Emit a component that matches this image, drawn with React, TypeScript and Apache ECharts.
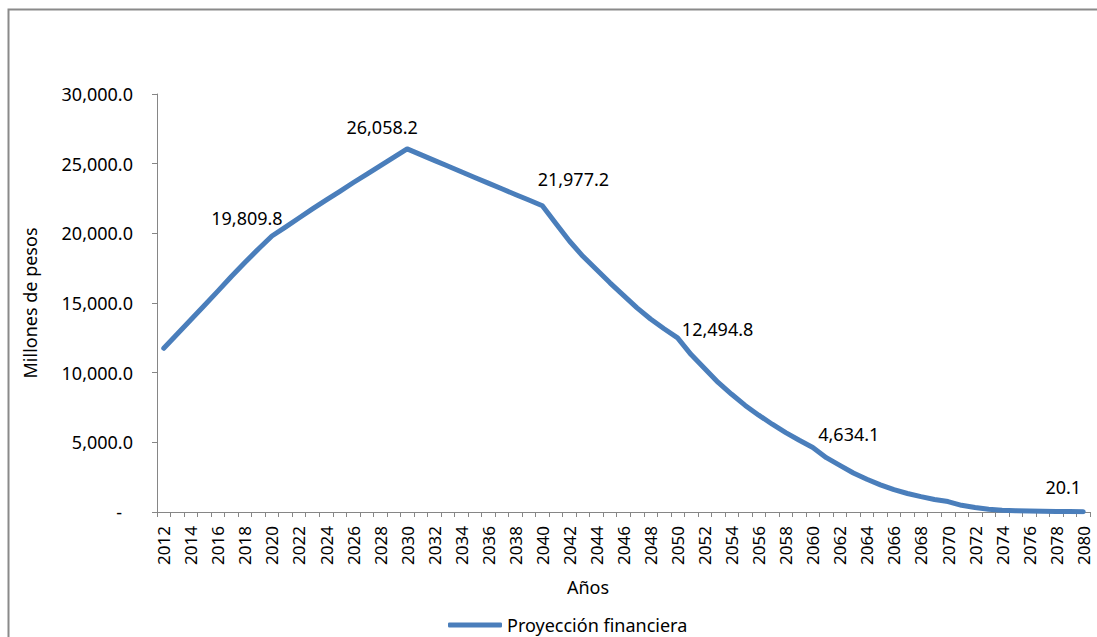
import React, { useEffect, useRef } from "react";
import * as echarts from "echarts";

const firstYear = 2012;
const lastYear = 2080;
const years: string[] = Array.from({ length: lastYear - firstYear + 1 }, (_, i) => String(firstYear + i));

const projection: number[] = [
  11750, 12780, 13800, 14820, 15850, 16900, 17900, 18880, 19809.8,
  20450, 21100, 21750, 22380, 23000, 23630, 24230, 24840, 25450, 26058.2,
  25650, 25240, 24830, 24420, 24010, 23600, 23200, 22790, 22390, 21977.2,
  20700, 19450, 18350, 17400, 16450, 15550, 14650, 13850, 13150, 12494.8,
  11300, 10300, 9300, 8450, 7650, 6950, 6300, 5700, 5150, 4634.1,
  3900, 3350, 2800, 2350, 1950, 1600, 1330, 1100, 900, 750,
  480, 320, 200, 130, 90, 65, 50, 38, 28, 20.1,
];

const labeledYears: string[] = ["2020", "2030", "2040", "2050", "2060", "2080"];

const seriesName = "Proyección financiera";
const yTitle = "Millones de pesos";
const xTitle = "Años";

const labelOffsets: Record<string, [number, number]> = {
  "2020": [-25, -18],
  "2030": [-25, -22],
  "2040": [31, -27],
  "2050": [40, -9],
  "2060": [36, -13],
  "2080": [-20, -25],
};

const FONT = "Noto Sans";
const FS = 18;
const LINE_COLOR = "#4a7ebb";
const AXIS_COLOR = "#868686";

const fmt = (v: number) =>
  v.toLocaleString("en-US", { minimumFractionDigits: 1, maximumFractionDigits: 1 });

export default function App() {
  const ref = useRef<HTMLDivElement>(null);
  useEffect(() => {
    if (!ref.current) return;
    const chart = echarts.init(ref.current, undefined, { renderer: "svg" });
    const data = projection.map((v, i) => {
      const y = years[i];
      if (labeledYears.includes(y)) {
        return {
          value: v,
          label: {
            show: true,
            position: "inside",
            offset: labelOffsets[y],
            formatter: () => fmt(v),
            color: "#000",
            fontFamily: FONT,
            fontSize: FS,
          },
        };
      }
      return { value: v };
    });
    chart.setOption({
      animation: false,
      backgroundColor: "#fff",
      textStyle: { fontFamily: FONT },
      grid: { left: 157, right: 7, top: 94, bottom: 125, containLabel: false },
      xAxis: {
        type: "category",
        data: years,
        boundaryGap: true,
        axisLine: { show: true, lineStyle: { color: AXIS_COLOR, width: 1 } },
        axisTick: { show: true, interval: 0, length: 5, lineStyle: { color: AXIS_COLOR } },
        axisLabel: {
          interval: 1,
          rotate: 90,
          margin: 14,
          color: "#000",
          fontFamily: FONT,
          fontSize: 17,
        },
        splitLine: { show: false },
      },
      yAxis: {
        type: "value",
        min: 0,
        max: 30000,
        interval: 5000,
        axisLine: { show: true, lineStyle: { color: AXIS_COLOR, width: 1 } },
        axisTick: { show: true, length: 5, lineStyle: { color: AXIS_COLOR } },
        splitLine: { show: false },
        axisLabel: {
          margin: 24,
          color: "#000",
          fontFamily: FONT,
          fontSize: FS,
          formatter: (v: number) => (v === 0 ? "{d|-}" : fmt(v)),
          rich: { d: { padding: [0, 11, 0, 0], color: "#000", fontFamily: FONT, fontSize: FS } },
        },
        name: yTitle,
        nameLocation: "middle",
        nameGap: 118,
        nameRotate: 90,
        nameTextStyle: { color: "#000", fontFamily: FONT, fontSize: FS },
      },
      legend: {
        show: true,
        left: 443,
        top: 611,
        icon: "roundRect",
        itemWidth: 54,
        itemHeight: 5,
        itemGap: 5,
        data: [seriesName],
        textStyle: { color: "#000", fontFamily: FONT, fontSize: FS, padding: [0, 0, 0, 0] },
      },
      graphic: [
        {
          type: "rect",
          shape: { x: 8.5, y: 9.5, width: 1200, height: 800 },
          style: { fill: "none", stroke: "#8a8a8a", lineWidth: 2 },
          silent: true,
          z: -1,
        },
        {
          type: "text",
          x: 588,
          y: 587,
          style: {
            text: xTitle,
            fill: "#000",
            fontFamily: FONT,
            fontSize: FS,
            align: "center",
            verticalAlign: "middle",
          },
        },
      ],
      series: [
        {
          name: seriesName,
          type: "line",
          data,
          symbol: "circle",
          symbolSize: 1,
          showSymbol: true,
          itemStyle: { color: LINE_COLOR },
          lineStyle: { color: LINE_COLOR, width: 5, cap: "round", join: "round" },
          emphasis: { disabled: true },
        },
      ],
    });
    return () => chart.dispose();
  }, []);
  return (
    <div
      ref={ref}
      style={{ position: "fixed", left: 0, top: 0, width: 1097, height: 637 }}
    />
  );
}
